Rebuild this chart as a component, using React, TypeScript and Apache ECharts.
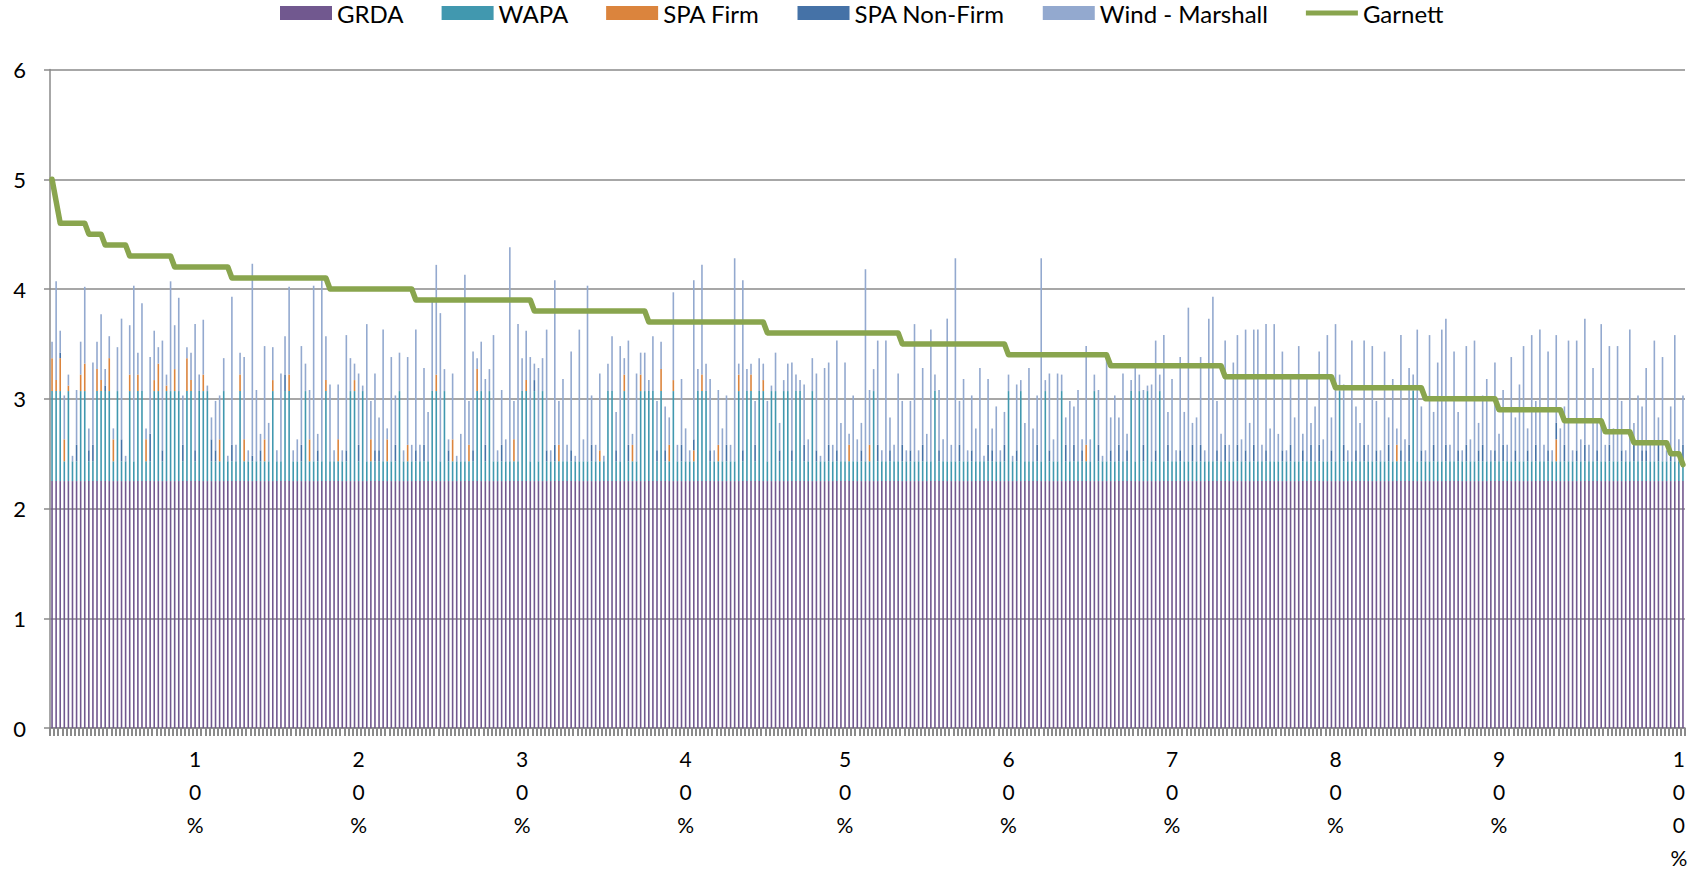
import React, { useEffect, useRef } from 'react';
import * as echarts from 'echarts';

// Series names and colours (Excel 2010 chart style)
const SERIES_NAMES = ['GRDA', 'WAPA', 'SPA Firm', 'SPA Non-Firm', 'Wind - Marshall', 'Garnett'];
const COLORS = ['#71588F', '#4198AF', '#DB843D', '#4572A7', '#93A9CF', '#89A54E'];

// x-axis tick labels and the category index where each is shown
const X_LABELS = ['10%', '20%', '30%', '40%', '50%', '60%', '70%', '80%', '90%', '100%'];
const X_LABEL_IDX = [35, 75, 115, 155, 194, 234, 274, 314, 354, 398];

// y-axis
const Y_MIN = 0;
const Y_MAX = 6;
const Y_STEP = 1;

// GRDA: constant block, as [value, count] runs
const GRDA_RUNS: [number, number][] = [[2.25, 400]];

// WAPA: one character per bar, L = low block, H = high block
const WAPA_LEVELS: Record<string, number> = { L: 0.18, H: 0.82 };
const WAPA_BARS = [
  'HHHLHLLHHL', 'LHHHHLHLLH', 'LHHLLHHLHH', 'HHLHHLHHHL', 'LLHLLLHLLL',
  'LLLLHLLHHL', 'LLHLLLLHLL', 'LLLHHLHLLL', 'LLLLLHLLLL', 'LLLHHLHLLL',
  'LLLLHHLHLL', 'LLLLLHHLHL', 'HLLLLLLLLL', 'LLLLLLHHLL', 'HLLLHHHHLH',
  'LLHLLLLLHH', 'HLLLLLLLHL', 'HHLHHLHHLH', 'HLHHLLHLLL', 'LLLLLLLLLL',
  'LHLLLLLLLL', 'LLLLLLHLLL', 'LLLLLLLLLL', 'LLLLHLLHLL', 'LLLHLLLHLL',
  'LLLLLHLLLL', 'LLLLHLHLHL', 'LHLLLLLLLL', 'LLLLLLLLLL', 'LLLLLLLLLL',
  'LLLLLLLLLL', 'LLLLLHLLLL', 'LLLLLLLLLL', 'LLLHLLLLLL', 'LLLLLLLLLL',
  'LLLLLLLLLL', 'LLLLLLLLLL', 'LLLLLLLLLL', 'LLLLLLLLLL', 'LLLLLLLLLL',
].join('');

// Other blocks: one character per bar, value = position in CODE x 0.05
const CODE = '0123456789abcdefghijklmnopqrstuvwxyzABCD';
const UNIT = 0.05;

const SPA_FIRM_BARS = [
  '6264100350', '0420640003', '0304025010', '4006200300', '0400003400',
  '0040200030', '0004000200', '4000200040', '0040000300', '0000300040',
  '0030400000', '0004002000', '0000300000', '0000200000', '3030300004',
  '0320000203', '0003000030', '0300200000', '0000000000', '0000030000',
  '3000000000', '0000000000', '0000000000', '0000000000', '0000000000',
  '0003000000', '0000000000', '0000000000', '0000000000', '0000000000',
  '0000000000', '0000000000', '0000000003', '0000000000', '0000000000',
  '0000000000', '0000000040', '0000000000', '0000000000', '0000000000',
].join('');

const SPA_NONFIRM_BARS = [
  '0010003002', '3001000400', '0000500200', '0030020004', '2000300001',
  '0200000300', '0300020000', '0020030002', '2000300002', '0300000200',
  '0002003000', '3000000020', '0203000200', '0030000020', '0300000020',
  '2000300200', '0200030002', '0030000020', '0200300200', '3020000020',
  '0030020030', '2003000200', '0030020003', '2003002000', '0300200030',
  '3020003002', '0302000300', '2003002003', '0300020300', '3020300200',
  '0203002030', '3002003002', '0300200300', '2030020030', '0300203002',
  '3002030020', '0203002030', '3002030020', '0300200302', '2003002003',
].join('');

const WIND_BARS = [
  '3i4821a6e4', 'f5c3428m19', 'w4g2e93k2k', '8h925n3a14', '9861r34f2z',
  'd3h762g7g2', '4i59w3x8e2', 'a2l63d1p7e', '6o2j972g3m', '3e9hkr42c1',
  '5y8i29c4n2', 'a4D7p69j3h', '6m2u8f3i1o', '4w93e15a7l', '3j2g472a95',
  '85g3c62t4k', '5d2a693B2v', '42863b1752', '5g32b46e1h', 'f3k7i2c45z',
  'a4j2m63g82', '9p2e5o3b4q', '3B8f2a6h1c', '4a2631c27h', '69B2e4g35b',
  '7d2i43a1j6', 'c5g32h3a1e', 'k3n6f2h9s4', '8g2qu95j3i', 'k4m7lo3n6p',
  '5i2c8l3f4a', 'h4n6p3b2m8', '7j3l92k5f3', 'l4e3o82n6i', 'on3k72i4m5',
  '9f2g5a3j6e', 'l4n8o3i2g6', '7m2k4n3h5p', '3i6l92o4c8', 'f3m5j28n49',
].join('');

// Garnett step line: level and the last bar index at that level
const GARNETT_LEVELS = [5.0, 4.8, 4.6, 4.5, 4.4, 4.3, 4.2, 4.1, 4.0, 3.9, 3.8, 3.7, 3.6, 3.5, 3.4, 3.3, 3.2, 3.1, 3.0, 2.9, 2.8, 2.7, 2.6, 2.5, 2.4];
const GARNETT_RUN_END = [0, 1, 8, 12, 18, 29, 43, 67, 88, 117, 145, 174, 207, 233, 258, 286, 313, 335, 353, 369, 379, 386, 395, 398, 399];

function decodeCodes(s: string): number[] {
  return s.split('').map((c) => +(CODE.indexOf(c) * UNIT).toFixed(2));
}
function expandRuns(runs: [number, number][]): number[] {
  const out: number[] = [];
  runs.forEach(([v, n]) => { for (let i = 0; i < n; i++) out.push(v); });
  return out;
}
function expandSteps(levels: number[], ends: number[]): number[] {
  const out: number[] = [];
  let start = 0;
  levels.forEach((v, k) => { for (let i = start; i <= ends[k]; i++) out.push(v); start = ends[k] + 1; });
  return out;
}

const grda = expandRuns(GRDA_RUNS);
const wapa = WAPA_BARS.split('').map((c) => WAPA_LEVELS[c]);
const spaFirm = decodeCodes(SPA_FIRM_BARS);
const spaNonFirm = decodeCodes(SPA_NONFIRM_BARS);
const wind = decodeCodes(WIND_BARS);
const garnett = expandSteps(GARNETT_LEVELS, GARNETT_RUN_END);

const categories = grda.map((_, i) => {
  const k = X_LABEL_IDX.indexOf(i);
  return k >= 0 ? X_LABELS[k] : String(i);
});

const FONT = 'Lato, "Open Sans", sans-serif';
const GRID_GRAY = '#8a8a8a';

export default function App() {
  const ref = useRef<HTMLDivElement>(null);
  useEffect(() => {
    if (!ref.current) return;
    const chart = echarts.init(ref.current, undefined, { renderer: 'svg' });
    const barData = [grda, wapa, spaFirm, spaNonFirm, wind];
    const bars = barData.map((d, i) => ({
      name: SERIES_NAMES[i],
      type: 'bar' as const,
      stack: 'supply',
      data: d,
      barWidth: 1.6,
      itemStyle: { color: COLORS[i] },
      emphasis: { disabled: true },
    }));
    chart.setOption({
      animation: false,
      textStyle: { fontFamily: FONT },
      legend: {
        left: 280,
        top: 1,
        padding: 0,
        itemWidth: 52,
        itemHeight: 14,
        itemGap: 38,
        textStyle: { fontSize: 24, color: '#000', fontFamily: FONT },
        data: [
          ...SERIES_NAMES.slice(0, 5).map((n) => ({ name: n, icon: 'rect' })),
          { name: SERIES_NAMES[5], icon: 'path://M0 0H60V6H0Z', itemStyle: { color: COLORS[5] } },
        ],
      },
      grid: { left: 50, right: 17, top: 69.5, bottom: 145, outerBoundsMode: 'none' },
      xAxis: {
        type: 'category',
        data: categories,
        axisLine: { show: true, lineStyle: { color: GRID_GRAY, width: 1.5 } },
        axisTick: { show: true, interval: 0, length: 8, lineStyle: { color: GRID_GRAY, width: 2 } },
        axisLabel: {
          interval: (i: number) => X_LABEL_IDX.includes(i),
          formatter: (v: string) => v.split('').join('\n'),
          fontSize: 21,
          lineHeight: 33,
          color: '#000',
          margin: 14,
          fontFamily: FONT,
        },
        splitLine: { show: false },
      },
      yAxis: {
        type: 'value',
        min: Y_MIN,
        max: Y_MAX,
        interval: Y_STEP,
        axisLine: { show: true, lineStyle: { color: GRID_GRAY, width: 1.5 } },
        axisTick: { show: true, length: 6, lineStyle: { color: GRID_GRAY, width: 1.5 } },
        axisLabel: { fontSize: 22, color: '#000', margin: 24, fontFamily: FONT },
        splitLine: { show: true, lineStyle: { color: GRID_GRAY, width: 1.5 } },
      },
      series: [
        ...bars,
        {
          name: SERIES_NAMES[5],
          type: 'line',
          data: garnett,
          symbol: 'none',
          z: 5,
          lineStyle: { color: COLORS[5], width: 5.5, cap: 'round', join: 'round' },
          itemStyle: { color: COLORS[5] },
          emphasis: { disabled: true },
        },
      ],
    });
    return () => chart.dispose();
  }, []);
  return (
    <div
      ref={ref}
      style={{ position: 'fixed', left: 0, top: 0, width: '1702px', height: '873px', background: '#fff' }}
    />
  );
}
